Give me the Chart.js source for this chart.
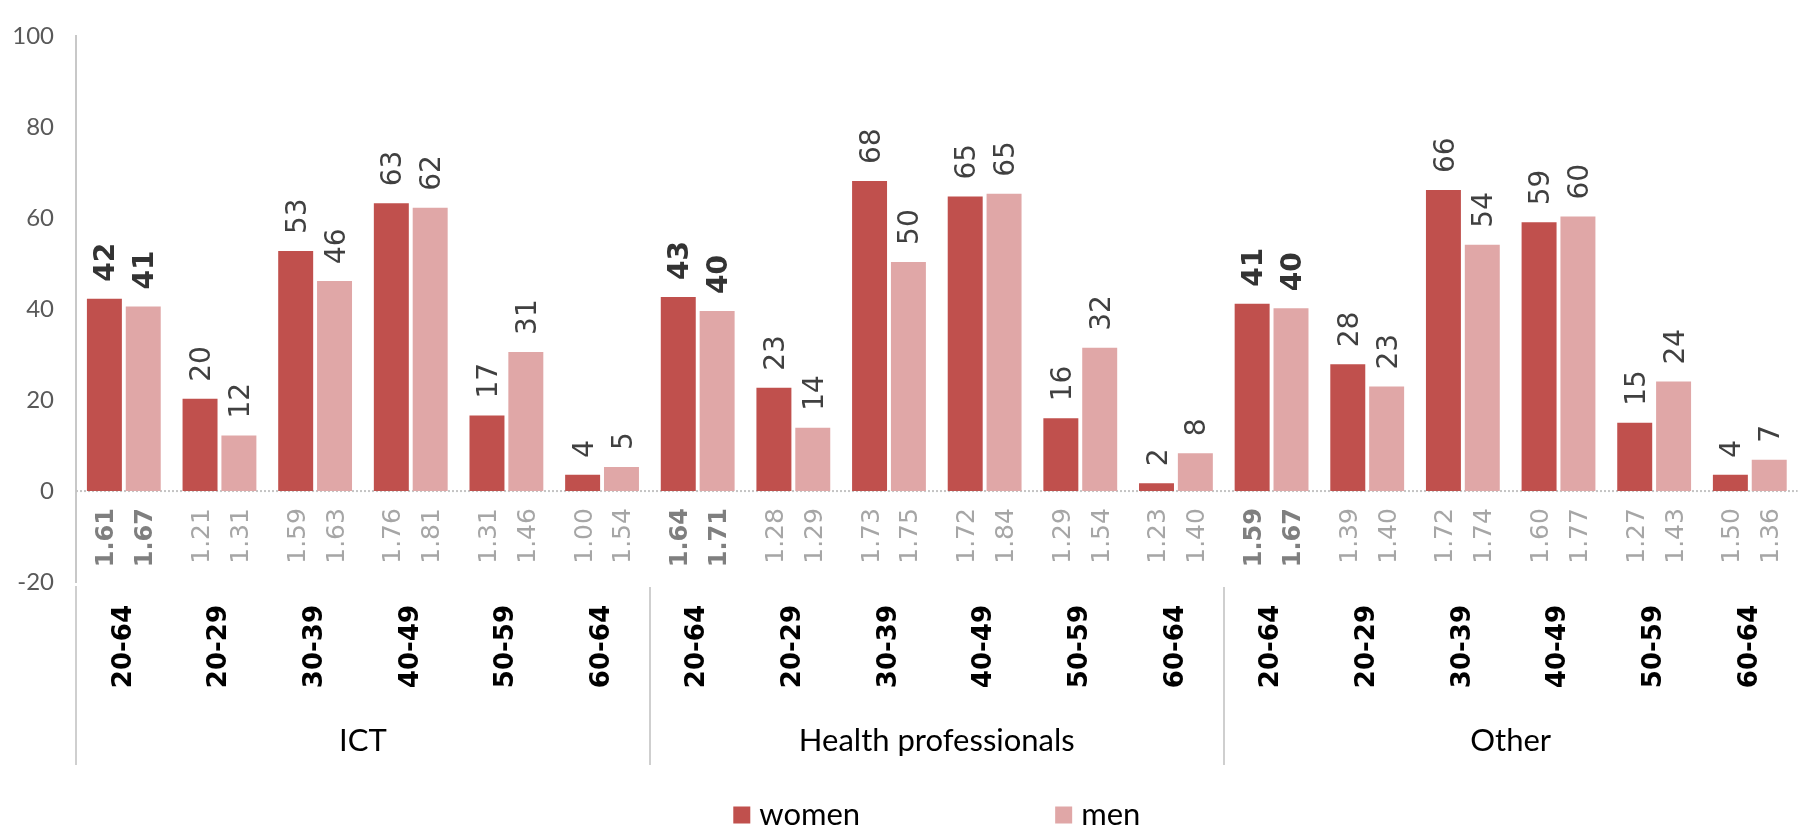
<!DOCTYPE html>
<html>
<head>
<meta charset="utf-8">
<script src="https://cdn.jsdelivr.net/npm/chart.js@4.4.1/dist/chart.umd.min.js"></script>
<style>
  html, body { margin: 0; padding: 0; background: #ffffff; }
  #wrap { width: 1804px; height: 829px; }
</style>
</head>
<body>
<div id="wrap"><canvas id="c" width="1804" height="829"></canvas></div>
<script>
// ---- data ----
const groups = ['ICT', 'Health professionals', 'Other'];
const categories = ['20-64','20-29','30-39','40-49','50-59','60-64',
                    '20-64','20-29','30-39','40-49','50-59','60-64',
                    '20-64','20-29','30-39','40-49','50-59','60-64'];
const women = [42.3, 20.3, 52.8, 63.3, 16.6, 3.6,
               42.7, 22.7, 68.2, 64.8, 16.0, 1.7,
               41.2, 27.9, 66.2, 59.1, 15.0, 3.6];
const men   = [40.6, 12.2, 46.2, 62.3, 30.6, 5.3,
               39.6, 13.9, 50.4, 65.4, 31.5, 8.3,
               40.2, 23.0, 54.2, 60.4, 24.1, 6.9];
const womenRatio = [1.61, 1.21, 1.59, 1.76, 1.31, 1.00,
                    1.64, 1.28, 1.73, 1.72, 1.29, 1.23,
                    1.59, 1.39, 1.72, 1.60, 1.27, 1.50];
const menRatio   = [1.67, 1.31, 1.63, 1.81, 1.46, 1.54,
                    1.71, 1.29, 1.75, 1.84, 1.54, 1.40,
                    1.67, 1.40, 1.74, 1.77, 1.43, 1.36];
const seriesNames = ['women', 'men'];
const yMin = -20, yMax = 100, yStep = 20;

const COLORS = ['#c0504d', '#e0a7a7'];
const ratios = [womenRatio, menRatio];

const labelPlugin = {
  id: 'labels',
  beforeDatasetsDraw(chart) {
    const {ctx, chartArea} = chart;
    const y0 = chart.scales.y.getPixelForValue(0);
    ctx.save();
    ctx.strokeStyle = '#c4c4c4';
    ctx.lineWidth = 2;
    ctx.setLineDash([2, 2]);
    ctx.beginPath();
    ctx.moveTo(chartArea.left, y0);
    ctx.lineTo(chartArea.right, y0);
    ctx.stroke();
    ctx.restore();
  },
  afterDatasetsDraw(chart) {
    const {ctx} = chart;
    const y0 = chart.scales.y.getPixelForValue(0);
    chart.data.datasets.forEach((ds, i) => {
      const meta = chart.getDatasetMeta(i);
      meta.data.forEach((bar, j) => {
        const bold = (j % 6 === 0);
        // value label above bar
        const vSize = 28;
        ctx.save();
        ctx.font = (bold ? 'bold ' : '') + vSize + 'px "DejaVu Sans"';
        ctx.fillStyle = bold ? '#333333' : '#404040';
        ctx.translate(bar.x + vSize * 0.36, bar.y - 17);
        ctx.rotate(-Math.PI / 2);
        ctx.textAlign = 'left';
        ctx.textBaseline = 'alphabetic';
        ctx.fillText(String(Math.round(ds.data[j])), 0, 0);
        ctx.restore();
        // ratio label below zero
        const rSize = bold ? 24 : 25;
        ctx.save();
        ctx.font = (bold ? 'bold ' : '') + rSize + 'px "DejaVu Sans"';
        ctx.fillStyle = bold ? '#7f7f7f' : '#a6a6a6';
        ctx.translate(bar.x + rSize * 0.36, y0 + 17);
        ctx.rotate(-Math.PI / 2);
        ctx.textAlign = 'right';
        ctx.textBaseline = 'alphabetic';
        ctx.fillText(ratios[i][j].toFixed(2), 0, 0);
        ctx.restore();
      });
    });
  },
  afterDraw(chart) {
    const {ctx, chartArea} = chart;
    const xs = chart.scales.x;
    const cw = (chartArea.right - chartArea.left) / categories.length;
    ctx.save();
    // group separators
    ctx.strokeStyle = '#cfcfcf';
    ctx.lineWidth = 2;
    for (let g = 0; g < groups.length; g++) {
      const xl = xs.getPixelForValue(g * 6) - cw / 2;
      ctx.beginPath();
      ctx.moveTo(Math.round(xl), g === 0 ? chartArea.bottom + 4 : chartArea.bottom + 5);
      ctx.lineTo(Math.round(xl), 765);
      ctx.stroke();
    }
    // group labels
    ctx.font = '31px Lato';
    ctx.fillStyle = '#000000';
    ctx.textAlign = 'center';
    ctx.textBaseline = 'middle';
    for (let g = 0; g < groups.length; g++) {
      const xl = xs.getPixelForValue(g * 6) - cw / 2;
      const xr = xs.getPixelForValue(g * 6 + 5) + cw / 2;
      ctx.fillText(groups[g], (xl + xr) / 2, 741);
    }
    // legend
    ctx.font = '31px Lato';
    const box = 17, gap = 9, itemGap = 195;
    const w0 = ctx.measureText(seriesNames[0]).width;
    const w1 = ctx.measureText(seriesNames[1]).width;
    const total = box + gap + w0 + itemGap + box + gap + w1;
    let x = (chartArea.left + chartArea.right) / 2 - total / 2;
    const ly = 815;
    ctx.textAlign = 'left';
    ctx.textBaseline = 'middle';
    [0, 1].forEach(i => {
      ctx.fillStyle = COLORS[i];
      ctx.fillRect(x, ly - box / 2, box, box);
      ctx.fillStyle = '#000000';
      ctx.fillText(seriesNames[i], x + box + gap, ly);
      x += box + gap + (i === 0 ? w0 : w1) + itemGap;
    });
    ctx.restore();
  }
};

new Chart(document.getElementById('c'), {
  type: 'bar',
  data: {
    labels: categories,
    datasets: [
      { label: seriesNames[0], data: women, backgroundColor: COLORS[0], borderWidth: 0,
        categoryPercentage: 0.8125, barPercentage: 0.9 },
      { label: seriesNames[1], data: men, backgroundColor: COLORS[1], borderWidth: 0,
        categoryPercentage: 0.8125, barPercentage: 0.9 }
    ]
  },
  options: {
    responsive: false,
    devicePixelRatio: 1,
    animation: false,
    layout: { padding: { top: 21, left: 0, right: 0, bottom: 0 } },
    plugins: { legend: { display: false }, tooltip: { enabled: false } },
    scales: {
      x: {
        type: 'category',
        grid: { display: false, drawTicks: false },
        border: { display: false },
        ticks: {
          autoSkip: false, minRotation: 90, maxRotation: 90, padding: 23,
          color: '#000000',
          font: { family: 'DejaVu Sans', size: 26, weight: 'bold' }
        },
        afterFit(scale) { scale.height = 247; }
      },
      y: {
        min: yMin, max: yMax,
        grid: { display: false, drawTicks: false },
        border: { display: true, color: '#c8c8c8', width: 2 },
        ticks: {
          stepSize: yStep, padding: 22, color: '#595959',
          font: { family: 'Lato', size: 24 }
        },
        afterFit(scale) { scale.width = 76; }
      }
    }
  },
  plugins: [labelPlugin]
});
</script>
</body>
</html>
